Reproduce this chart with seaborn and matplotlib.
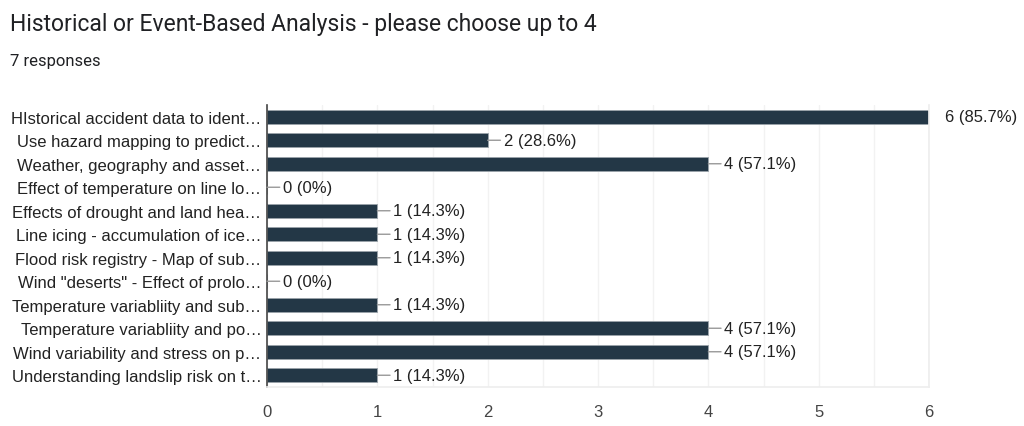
import matplotlib
matplotlib.use("Agg")
import matplotlib.pyplot as plt
import seaborn as sns
import pandas as pd
from matplotlib.ticker import MultipleLocator

categories = [
    "HIstorical accident data to ident\u2026",
    "Use hazard mapping to predict\u2026",
    "Weather, geography and asset\u2026",
    "Effect of temperature on line lo\u2026",
    "Effects of drought and land hea\u2026",
    "Line icing - accumulation of ice\u2026",
    "Flood risk registry - Map of sub\u2026",
    "Wind \"deserts\" - Effect of prolo\u2026",
    "Temperature variabliity and sub\u2026",
    "Temperature variabliity and po\u2026",
    "Wind variability and stress on p\u2026",
    "Understanding landslip risk on t\u2026",
]
counts = [6, 2, 4, 0, 1, 1, 1, 0, 1, 4, 4, 1]
percents = ["85.7%", "28.6%", "57.1%", "0%", "14.3%", "14.3%", "14.3%", "0%", "14.3%", "57.1%", "57.1%", "14.3%"]
x_ticks = [0, 1, 2, 3, 4, 5, 6]

df = pd.DataFrame({"category": categories, "count": counts})

sns.set_theme(style="white")
plt.rcParams["font.family"] = ["Liberation Sans", "DejaVu Sans"]

fig = plt.figure(figsize=(10.24, 4.27), dpi=100)
ax = fig.add_axes([267 / 1024, 1 - 388 / 427, (929 - 267) / 1024, (388 - 106) / 427])

bar_color = "#233746"
sns.barplot(data=df, y="category", x="count", orient="h", color=bar_color,
            width=0.6, saturation=1, ax=ax, edgecolor="#9aa3aa", linewidth=0.6)

ax.set_xlim(0, 6)
ax.set_ylim(len(categories) - 0.5, -0.5)
ax.set_xticks(x_ticks)
ax.xaxis.set_minor_locator(MultipleLocator(0.5))
ax.grid(True, axis="x", which="both", color="#f2f2f2", linewidth=1)
ax.set_axisbelow(True)
ax.set_xlabel("")
ax.set_ylabel("")

ax.spines["top"].set_visible(False)
ax.spines["right"].set_color("#eeeeee")
ax.spines["bottom"].set_color("#eeeeee")
ax.spines["left"].set_color("#444444")
ax.spines["left"].set_linewidth(1.2)

ax.tick_params(axis="y", length=0, pad=4, labelsize=12, labelcolor="#222222")
ax.tick_params(axis="x", length=0, pad=12, labelsize=12, labelcolor="#444444")
ax.tick_params(axis="x", which="minor", length=0)

for i, (c, p) in enumerate(zip(counts, percents)):
    label = f"{c} ({p})"
    if c == max(x_ticks):
        ax.annotate(label, xy=(c, i), xytext=(11.5, 0), textcoords="offset points",
                    ha="left", va="center", fontsize=12, color="#222222",
                    annotation_clip=False)
    else:
        ax.annotate(label, xy=(c, i), xytext=(11.5, 0), textcoords="offset points",
                    ha="left", va="center", fontsize=12, color="#222222",
                    arrowprops=dict(arrowstyle="-", color="#999999", lw=1,
                                    shrinkA=0, shrinkB=0))

fig.text(10 / 1024, 1 - 31 / 427, "Historical or Event-Based Analysis - please choose up to 4",
         fontsize=16.5, color="#202124", family=["Roboto", "DejaVu Sans"], va="baseline")
fig.text(10 / 1024, 1 - 66 / 427, "7 responses", fontsize=12, color="#202124",
         family=["Roboto", "DejaVu Sans"], va="baseline")

fig.savefig("out.png", dpi=100, facecolor="white")
